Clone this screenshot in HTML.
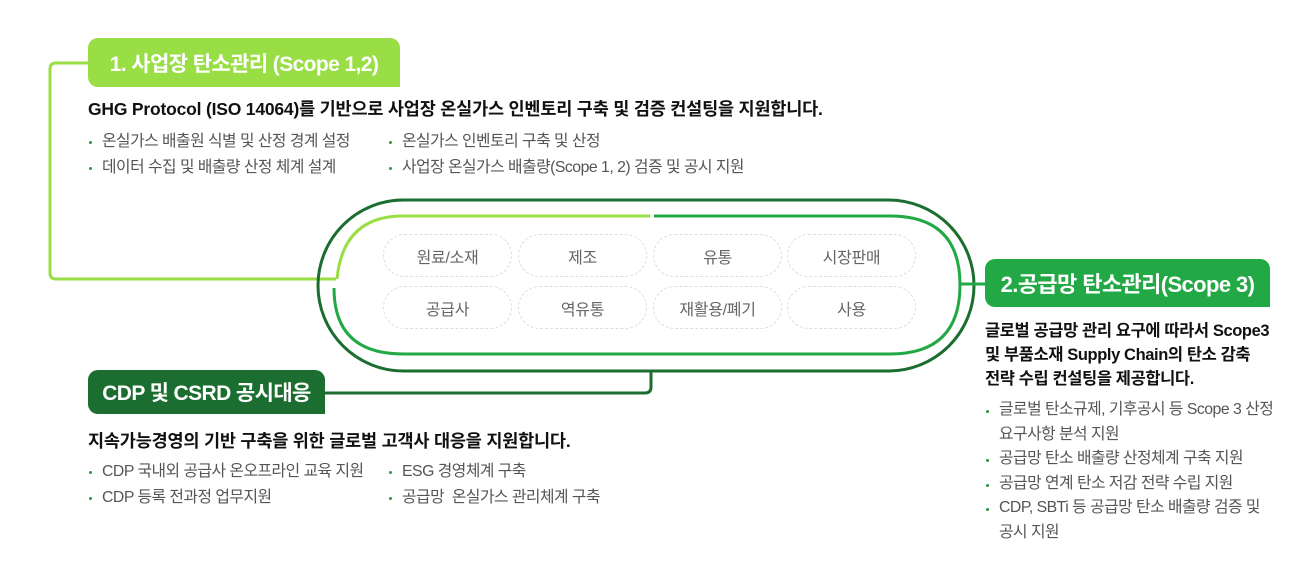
<!DOCTYPE html>
<html><head><meta charset="utf-8"><style>
body{margin:0;width:1300px;height:572px;background:#fff;position:relative;overflow:hidden;font-family:"Liberation Sans","Noto Sans CJK KR",sans-serif;}
.tab{position:absolute;color:#fff;font-weight:bold;font-size:21px;display:flex;align-items:center;justify-content:center;border-radius:10px 10px 0 10px;letter-spacing:-0.6px;}
.h{position:absolute;font-weight:bold;font-size:17.5px;color:#111;white-space:nowrap;letter-spacing:-0.2px;line-height:24px;}
.b{position:absolute;font-size:15.8px;color:#555;white-space:nowrap;letter-spacing:-0.5px;line-height:26px;}
.b div{position:relative;padding-left:14px;}
.b div:before{content:"";position:absolute;left:1px;top:12px;width:3px;height:3px;border-radius:50%;background:#2a9a45;}
.box{position:absolute;width:129px;height:43px;border:1px dashed #ddd;border-radius:22px;display:flex;align-items:center;justify-content:center;font-size:16px;color:#666;box-sizing:border-box;letter-spacing:-0.3px;}
</style></head><body>
<svg width="1300" height="572" style="position:absolute;left:0;top:0">
<path d="M88 63 H56 Q50 63 50 69 V273 Q50 279 56 279 H336" fill="none" stroke="#9ade46" stroke-width="3"/>
<rect x="318" y="200" width="656" height="171" rx="85.5" fill="none" stroke="#1b6e30" stroke-width="3"/>
<path d="M650 216 H403 Q343 216 337 279" fill="none" stroke="#9ade46" stroke-width="3"/>
<path d="M654 216 H890 Q960 216 960 285 Q960 354 890 354 H403 Q334 354 334 288" fill="none" stroke="#22a845" stroke-width="3"/>
<path d="M960 284 H990" stroke="#22a845" stroke-width="3"/>
<path d="M651 371 V387 Q651 393 645 393 H320" fill="none" stroke="#1b6e30" stroke-width="3"/>
</svg>
<div class="tab" style="left:88px;top:38px;width:312px;height:49px;background:#9ade46;">1. 사업장 탄소관리 (Scope 1,2)</div>
<div class="h" style="left:88px;top:97px;">GHG Protocol (ISO 14064)를 기반으로 사업장 온실가스 인벤토리 구축 및 검증 컨설팅을 지원합니다.</div>
<div class="b" style="left:88px;top:129px;"><div>온실가스 배출원 식별 및 산정 경계 설정</div><div>데이터 수집 및 배출량 산정 체계 설계</div></div>
<div class="b" style="left:388px;top:129px;"><div>온실가스 인벤토리 구축 및 산정</div><div>사업장 온실가스 배출량(Scope 1, 2) 검증 및 공시 지원</div></div>

<div class="box" style="left:383px;top:234px">원료/소재</div>
<div class="box" style="left:518px;top:234px">제조</div>
<div class="box" style="left:653px;top:234px">유통</div>
<div class="box" style="left:787px;top:234px">시장판매</div>
<div class="box" style="left:383px;top:286px">공급사</div>
<div class="box" style="left:518px;top:286px">역유통</div>
<div class="box" style="left:653px;top:286px">재활용/폐기</div>
<div class="box" style="left:787px;top:286px">사용</div>

<div class="tab" style="left:985px;top:259px;width:285px;height:48px;background:#22a845;font-size:22px;">2.공급망 탄소관리(Scope 3)</div>
<div class="h" style="left:985px;top:319px;font-size:16.5px;letter-spacing:-0.4px;">글로벌 공급망 관리 요구에 따라서 Scope3<br>및 부품소재 Supply Chain의 탄소 감축<br>전략 수립 컨설팅을 제공합니다.</div>
<div class="b" style="left:985px;top:398px;line-height:24.5px;"><div>글로벌 탄소규제, 기후공시 등 Scope 3 산정<br>요구사항 분석 지원</div><div>공급망 탄소 배출량 산정체계 구축 지원</div><div>공급망 연계 탄소 저감 전략 수립 지원</div><div>CDP, SBTi 등 공급망 탄소 배출량 검증 및<br>공시 지원</div></div>

<div class="tab" style="left:88px;top:370px;width:237px;height:44px;background:#1b6e30;">CDP 및 CSRD 공시대응</div>
<div class="h" style="left:88px;top:429px;">지속가능경영의 기반 구축을 위한 글로벌 고객사 대응을 지원합니다.</div>
<div class="b" style="left:88px;top:459px;"><div>CDP 국내외 공급사 온오프라인 교육 지원</div><div>CDP 등록 전과정 업무지원</div></div>
<div class="b" style="left:388px;top:459px;"><div>ESG 경영체계 구축</div><div>공급망&nbsp; 온실가스 관리체계 구축</div></div>
</body></html>
